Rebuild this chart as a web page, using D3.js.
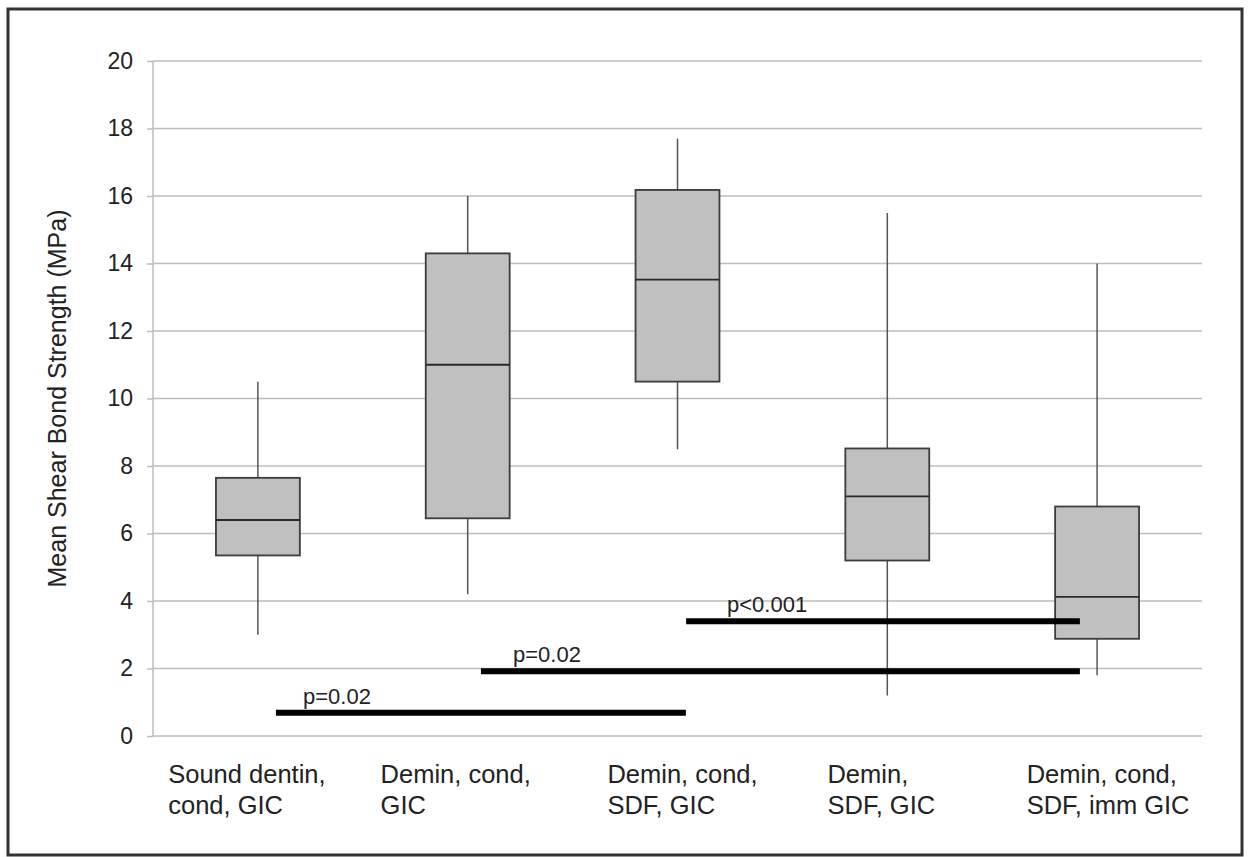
<!DOCTYPE html>
<html>
<head>
<meta charset="utf-8">
<script src="https://cdn.jsdelivr.net/npm/d3@7"></script>
<style>
  body { margin: 0; background: #fff; }
  text { font-family: "Liberation Sans", Arial, sans-serif; fill: #222; }
</style>
</head>
<body>
<div id="chart"></div>
<script>
// groups, two lines each
var groups = [
  ["Sound dentin,", "cond, GIC"],
  ["Demin, cond,", "GIC"],
  ["Demin, cond,", "SDF, GIC"],
  ["Demin,", "SDF, GIC"],
  ["Demin, cond,", "SDF, imm GIC"]
];

// box plot values (MPa)
var whiskerLow  = [3.0, 4.2, 8.5, 1.2, 1.8];
var q1          = [5.35, 6.45, 10.5, 5.2, 2.88];
var median      = [6.4, 11.0, 13.52, 7.1, 4.12];
var q3          = [7.65, 14.3, 16.18, 8.52, 6.8];
var whiskerHigh = [10.5, 16.0, 17.7, 15.5, 14.0];

// significance bars (x in group units, 0 = first group)
var sigLabels = ["p=0.02", "p=0.02", "p<0.001"];
var sigFrom   = [0.086, 1.063, 2.041];
var sigTo     = [2.04, 3.918, 3.918];
var sigValue  = [0.69, 1.92, 3.40];
var sigTextX  = [0.215, 1.216, 2.236];

var yTicks = [0, 2, 4, 6, 8, 10, 12, 14, 16, 18, 20];

(function() {
  var width = 1249,
      height = 857;
  var plotLeft = 153, plotRight = 1202, plotTop = 61, plotBottom = 736;

  var svg = d3.select("#chart").append("svg")
    .attr("width", width)
    .attr("height", height);

  // outer frame
  svg.append("rect")
    .attr("x", 8).attr("y", 9)
    .attr("width", 1234).attr("height", 846)
    .style("fill", "none").style("stroke", "#333").style("stroke-width", 3);

  var y = d3.scaleLinear().domain([0, 20]).range([plotBottom, plotTop]);

  var x = d3.scaleBand()
    .domain(d3.range(groups.length))
    .range([plotLeft, plotRight])
    .paddingInner(0.6)
    .paddingOuter(0.3);

  var xPos = d3.scaleLinear()
    .domain([-0.5, groups.length - 0.5])
    .range([plotLeft, plotRight]);

  // y axis with gridlines
  var yAxis = svg.append("g")
    .attr("transform", "translate(" + plotLeft + ",0)")
    .call(d3.axisLeft(y).tickValues(yTicks).tickSize(6).tickPadding(12));

  yAxis.select(".domain").remove();
  yAxis.selectAll(".tick line").style("stroke", "#bdbdbd").style("stroke-width", 1.5);
  yAxis.selectAll(".tick text")
    .style("font-size", "23px")
    .style("font-family", "'Liberation Sans', Arial, sans-serif")
    .style("fill", "#222")
    .attr("dx", "-2");

  svg.append("g").selectAll("line")
    .data(yTicks)
    .enter().append("line")
    .attr("x1", plotLeft).attr("x2", plotRight)
    .attr("y1", function(d) { return y(d); })
    .attr("y2", function(d) { return y(d); })
    .style("stroke", "#bdbdbd")
    .style("stroke-width", 1.5);

  svg.append("line")
    .attr("x1", plotLeft).attr("x2", plotLeft)
    .attr("y1", plotTop).attr("y2", plotBottom)
    .style("stroke", "#bdbdbd")
    .style("stroke-width", 1.5);

  // y label
  svg.append("text")
    .attr("transform", "translate(66," + ((plotTop + plotBottom) / 2) + ") rotate(-90)")
    .attr("text-anchor", "middle")
    .style("font-size", "25px")
    .text("Mean Shear Bond Strength (MPa)");

  // boxes
  var box = svg.append("g").selectAll("g")
    .data(groups)
    .enter().append("g");

  box.append("line")
    .attr("x1", function(d, i) { return x(i) + x.bandwidth() / 2; })
    .attr("x2", function(d, i) { return x(i) + x.bandwidth() / 2; })
    .attr("y1", function(d, i) { return y(whiskerLow[i]); })
    .attr("y2", function(d, i) { return y(whiskerHigh[i]); })
    .style("stroke", "#555")
    .style("stroke-width", 1.5);

  box.append("rect")
    .attr("x", function(d, i) { return x(i); })
    .attr("width", x.bandwidth())
    .attr("y", function(d, i) { return y(q3[i]); })
    .attr("height", function(d, i) { return y(q1[i]) - y(q3[i]); })
    .style("fill", "#c0c0c0")
    .style("stroke", "#3c3c3c")
    .style("stroke-width", 1.8);

  box.append("line")
    .attr("x1", function(d, i) { return x(i); })
    .attr("x2", function(d, i) { return x(i) + x.bandwidth(); })
    .attr("y1", function(d, i) { return y(median[i]); })
    .attr("y2", function(d, i) { return y(median[i]); })
    .style("stroke", "#2a2a2a")
    .style("stroke-width", 1.8);

  // significance bars
  svg.append("g").selectAll("line")
    .data(sigLabels)
    .enter().append("line")
    .attr("x1", function(d, i) { return xPos(sigFrom[i]); })
    .attr("x2", function(d, i) { return xPos(sigTo[i]); })
    .attr("y1", function(d, i) { return y(sigValue[i]); })
    .attr("y2", function(d, i) { return y(sigValue[i]); })
    .style("stroke", "#000")
    .style("stroke-width", 6);

  svg.append("g").selectAll("text")
    .data(sigLabels)
    .enter().append("text")
    .attr("x", function(d, i) { return xPos(sigTextX[i]); })
    .attr("y", function(d, i) { return y(sigValue[i]) - 9; })
    .style("font-size", "22px")
    .text(function(d) { return d; });

  // category labels: lines left aligned, block roughly centred on the group
  var nudge = [-11, -12, 5, -6, 11];

  var labels = svg.append("g").selectAll("text")
    .data(groups)
    .enter().append("text")
    .style("font-size", "25.5px");

  labels.each(function(d) {
    var t = d3.select(this);
    d.forEach(function(line, k) {
      t.append("tspan").attr("y", 783 + k * 31).text(line);
    });
  });

  labels.each(function(d, i) {
    var t = d3.select(this);
    var w = d3.max(t.selectAll("tspan").nodes(), function(n) { return n.getComputedTextLength(); });
    t.selectAll("tspan").attr("x", x(i) + x.bandwidth() / 2 - w / 2 + nudge[i]);
  });
})();
</script>
</body>
</html>
